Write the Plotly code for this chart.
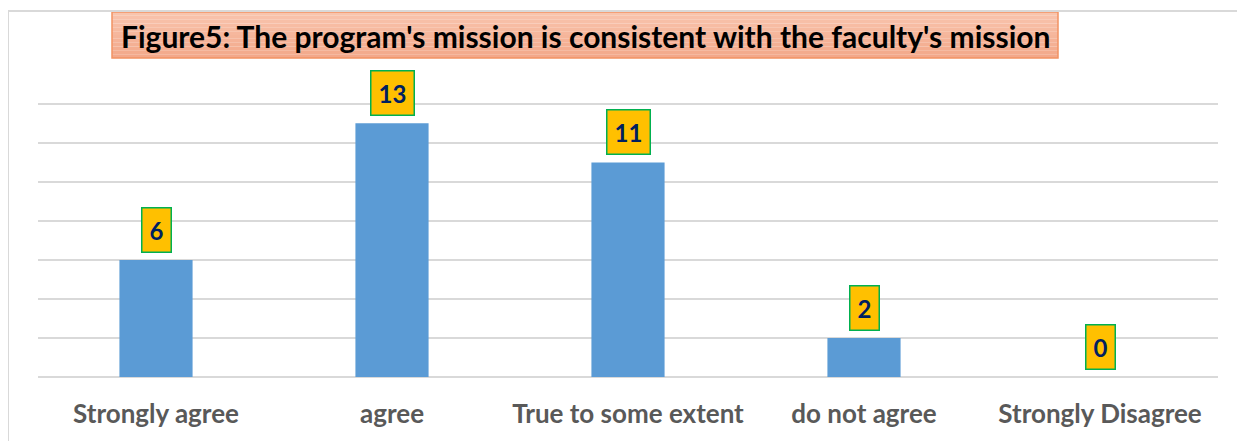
import plotly.graph_objects as go

categories = ["Strongly agree", "agree", "True to some extent", "do not agree", "Strongly Disagree"]
values = [6, 13, 11, 2, 0]
title_text = "Figure5: The program's mission is consistent with the faculty's mission"

# page body has an 8px margin; figure sized/positioned to compensate
OFF = 8
YMAX = 14.3
UNIT = 19.5  # px per unit in the reference
W, H = 1237, 433
L = 38 - OFF
R = W - (1218 - OFF)
B = H - (377 - OFF)
T = H - B - round(YMAX * UNIT)
pw, ph = W - L - R, H - T - B

def px(x):
    return (x - OFF - L) / pw

def py(y):
    return (H - B - (y - OFF)) / ph

fig = go.Figure()
fig.add_trace(go.Bar(
    x=categories, y=values,
    marker=dict(color="#5B9BD5", line=dict(width=0)),
    width=0.31,
    hoverinfo="skip",
))

for c, v in zip(categories, values):
    fig.add_annotation(
        x=c, y=v, xref="x", yref="y", text=f"<b>{v}</b>",
        showarrow=False, yanchor="bottom", yshift=7,
        font=dict(family="Lato", size=24, color="#002060"),
        bgcolor="#FFC000", bordercolor="#00B050", borderwidth=1.5, borderpad=7,
    )

shapes = [
    dict(type="line", xref="paper", yref="paper", x0=px(8), x1=px(8), y0=py(445), y1=py(11),
         line=dict(color="#D9D9D9", width=2)),
    dict(type="line", xref="paper", yref="paper", x0=px(8), x1=px(1250), y0=py(11), y1=py(11),
         line=dict(color="#D9D9D9", width=2)),
]
# title box with vertical gradient
top_c = (248, 196, 173)
bot_c = (243, 168, 138)
n = 12
y_top, y_bot = 12, 58
for i in range(n):
    t = i / (n - 1)
    col = tuple(round(a + (b - a) * t) for a, b in zip(top_c, bot_c))
    ya = y_top + (y_bot - y_top) * i / n
    yb = y_top + (y_bot - y_top) * (i + 1) / n
    shapes.append(dict(type="rect", xref="paper", yref="paper", x0=px(112), x1=px(1058),
                       y0=py(yb), y1=py(ya), fillcolor="rgb(%d,%d,%d)" % col,
                       line=dict(width=0), layer="below"))
shapes.append(dict(type="rect", xref="paper", yref="paper", x0=px(112), x1=px(1058),
                   y0=py(58), y1=py(12), fillcolor="rgba(0,0,0,0)",
                   line=dict(color="#F29363", width=1.5), layer="below"))
fig.update_layout(shapes=shapes)

fig.add_annotation(
    x=px(585), y=py(36), xref="paper", yref="paper", text=f"<b>{title_text}</b>",
    showarrow=False, xanchor="center", yanchor="middle",
    font=dict(family="Lato", size=30, color="#000000"),
)

fig.update_layout(
    width=W, height=H,
    margin=dict(l=L, r=R, t=T, b=B),
    paper_bgcolor="white", plot_bgcolor="white",
    showlegend=False,
    xaxis=dict(
        showgrid=False, showline=False, zeroline=False,
        tickfont=dict(family="Lato", size=26, color="#595959"),
        ticks="outside", ticklen=14, tickcolor="rgba(0,0,0,0)",
        tickprefix="<b>", ticksuffix="</b>",
    ),
    yaxis=dict(
        range=[0, YMAX], tickvals=[0, 2, 4, 6, 8, 10, 12, 14], showticklabels=False,
        showgrid=True, gridcolor="#D9D9D9", gridwidth=1.5,
        zeroline=True, zerolinecolor="#D9D9D9", zerolinewidth=1.5,
        showline=False,
    ),
)

fig.write_html("out.html")
